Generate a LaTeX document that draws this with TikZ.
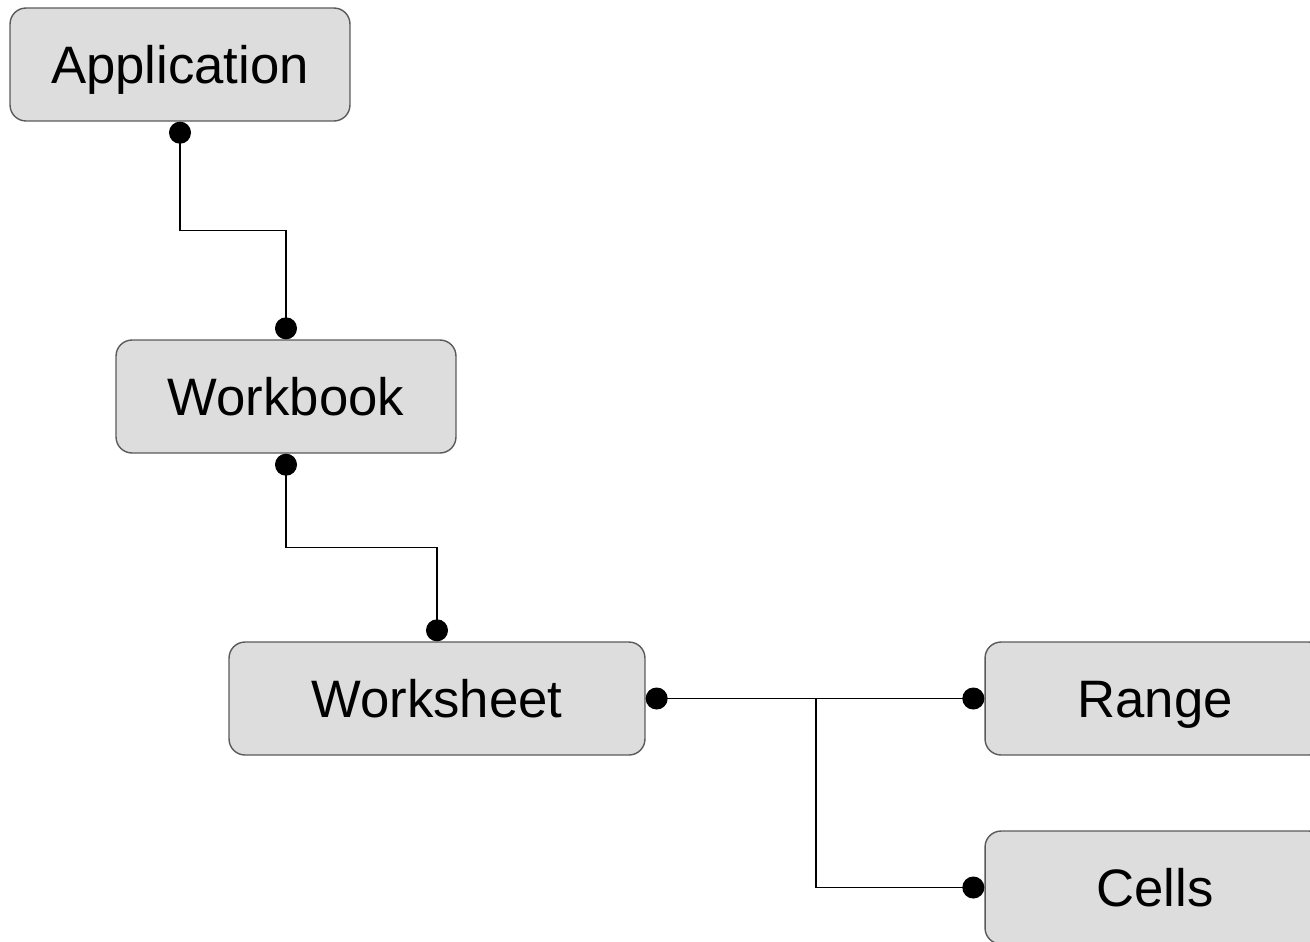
\documentclass[tikz,border=0pt]{standalone}
\usepackage{fontspec}
\setmainfont{Liberation Sans}
\usetikzlibrary{positioning}
\usetikzlibrary{calc}
\usetikzlibrary{arrows.meta}

\definecolor{boxfill}{HTML}{DCDDDC}
\definecolor{boxline}{HTML}{5A5A5A}

\tikzset{
  objbox/.style={draw=boxline,fill=boxfill,line width=0.8pt,rounded corners=0.32cm,
    minimum width=6.8cm,minimum height=2.26cm,inner sep=0pt,
    text height=27pt,text depth=5.5pt,
    font=\fontsize{30}{36}\selectfont},
  link/.style={draw=black,line width=0.6pt},
  dot/.tip={Circle[length=0.44cm,width=0.44cm]}
}

\begin{document}
\begin{tikzpicture}[x=0.02cm,y=-0.02cm]
\useasboundingbox (0,0) rectangle (1310,941);
\node[objbox](app) at (180,64.5){Application};
\node[objbox](wb) at (286,396.5){Workbook};
\node[objbox,minimum width=8.32cm](ws) at (437,698.5){Worksheet};
\node[objbox](range) at (1155,698.5){Range};
\node[objbox](cells) at (1155,887.5){Cells};
\coordinate(split) at (816,698.5);

\draw[link,{dot}-{dot}] (app.south) |- ($(app.south)!0.5!(wb.north)$) -| (wb.north);
\draw[link,{dot}-{dot}] (wb.south) |- ($(wb.south)!0.5!(ws.north)$) -| (ws.north);
\draw[link,{dot}-{dot}] (ws.east) -- (range.west);
\draw[link,-{dot}] (split) |- (cells.west);
\end{tikzpicture}
\end{document}
